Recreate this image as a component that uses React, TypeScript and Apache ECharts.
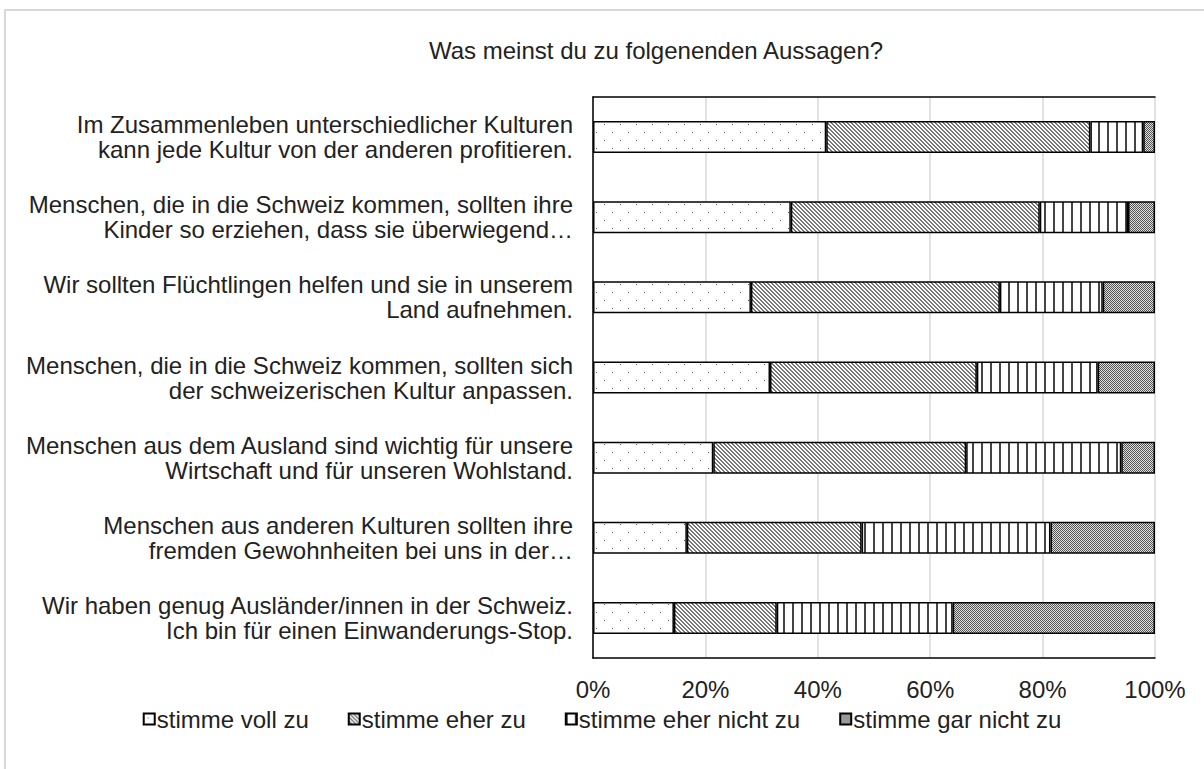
import React, { useEffect, useRef } from "react";
import * as echarts from "echarts";

const categories = [
  "Im Zusammenleben unterschiedlicher Kulturen\nkann jede Kultur von der anderen profitieren.",
  "Menschen, die in die Schweiz kommen, sollten ihre\nKinder so erziehen, dass sie überwiegend…",
  "Wir sollten Flüchtlingen helfen und sie in unserem\nLand aufnehmen.",
  "Menschen, die in die Schweiz kommen, sollten sich\nder schweizerischen Kultur anpassen.",
  "Menschen aus dem Ausland sind wichtig für unsere\nWirtschaft und für unseren Wohlstand.",
  "Menschen aus anderen Kulturen sollten ihre\nfremden Gewohnheiten bei uns in der…",
  "Wir haben genug Ausländer/innen in der Schweiz.\nIch bin für einen Einwanderungs-Stop.",
];

const seriesNames = [
  "stimme voll zu",
  "stimme eher zu",
  "stimme eher nicht zu",
  "stimme gar nicht zu",
];

const vollZu = [41.5, 35.2, 28.1, 31.5, 21.4, 16.7, 14.4];
const eherZu = [47.0, 44.3, 44.3, 36.8, 45.0, 31.1, 18.3];
const eherNichtZu = [9.4, 15.7, 18.3, 21.5, 27.6, 33.6, 31.3];
const garNichtZu = [2.1, 4.8, 9.3, 10.2, 6.0, 18.6, 36.0];

const tickValues = [0, 20, 40, 60, 80, 100];

const FONT = "'Liberation Sans', Arial, sans-serif";

function makeTile(w: number, h: number, draw: (ctx: CanvasRenderingContext2D) => void) {
  const c = document.createElement("canvas");
  c.width = w;
  c.height = h;
  const ctx = c.getContext("2d")!;
  ctx.fillStyle = "#ffffff";
  ctx.fillRect(0, 0, w, h);
  draw(ctx);
  return c;
}

function patterns() {
  const dots = makeTile(16, 16, (ctx) => {
    ctx.fillStyle = "#555";
    ctx.fillRect(4, 4, 1, 1);
    ctx.fillRect(12, 12, 1, 1);
  });
  const diag = makeTile(4, 4, (ctx) => {
    ctx.fillStyle = "#777";
    for (let i = 0; i < 4; i++) {
      ctx.fillRect(i, i, 1, 1);
      ctx.fillRect((i + 1) % 4, i, 1, 1);
    }
  });
  const vert = makeTile(9, 4, (ctx) => {
    ctx.fillStyle = "#444";
    ctx.fillRect(0, 0, 2, 4);
  });
  const checker = makeTile(2, 2, (ctx) => {
    ctx.fillStyle = "#dddddd";
    ctx.fillRect(0, 0, 2, 2);
    ctx.fillStyle = "#555";
    ctx.fillRect(0, 0, 1, 1);
    ctx.fillRect(1, 1, 1, 1);
  });
  return [dots, diag, vert, checker].map((img) => ({
    image: img,
    repeat: "repeat",
  }));
}

export default function App() {
  const ref = useRef<HTMLDivElement>(null);
  useEffect(() => {
    document.body.style.margin = "0";
    const chart = echarts.init(ref.current!, undefined, { renderer: "svg" });
    const pats = patterns();
    const dataSets = [vollZu, eherZu, eherNichtZu, garNichtZu];
    chart.setOption({
      animation: false,
      backgroundColor: "#ffffff",
      title: {
        text: "Was meinst du zu folgenenden Aussagen?",
        left: 424,
        top: 33,
        textStyle: { fontFamily: FONT, fontSize: 24, fontWeight: "normal", color: "#222" },
      },
      graphic: [
        {
          type: "rect",
          shape: { x: 5, y: 10, width: 1220, height: 790 },
          style: { fill: "none", stroke: "#d9d9d9", lineWidth: 2 },
          silent: true,
        },
      ],
      legend: {
        top: 702,
        left: "center",
        itemWidth: 11,
        itemHeight: 11,
        itemGap: 39,
        icon: "rect",
        textStyle: { fontFamily: FONT, fontSize: 24, color: "#222", padding: [0, 0, 0, -3] },
        data: seriesNames,
      },
      grid: { left: 593, right: 49, top: 97, bottom: 111, containLabel: false },
      xAxis: [
        {
          type: "value",
          min: 0,
          max: 100,
          interval: 20,
          position: "bottom",
          axisLine: { show: true, lineStyle: { color: "#000", width: 1.5 } },
          axisTick: { show: false },
          splitLine: { show: true, lineStyle: { color: "#d9d9d9", width: 1.5 } },
          axisLabel: {
            fontFamily: FONT,
            fontSize: 24,
            color: "#222",
            margin: 19,
            formatter: (v: number) => (tickValues.includes(v) ? v + "%" : ""),
          },
        },
        {
          type: "value",
          min: 0,
          max: 100,
          interval: 20,
          position: "top",
          axisLine: { show: true, lineStyle: { color: "#000", width: 1.5 } },
          axisTick: { show: false },
          splitLine: { show: false },
          axisLabel: { show: false },
        },
      ],
      yAxis: [
        {
          type: "category",
          data: categories,
          inverse: true,
          position: "left",
          axisLine: { show: false },
          axisTick: { show: false },
          axisLabel: {
            fontFamily: FONT,
            fontSize: 24,
            lineHeight: 25,
            color: "#222",
            align: "right",
            margin: 20,
          },
        },
        {
          type: "category",
          data: categories,
          inverse: true,
          position: "right",
          axisLine: { show: true, lineStyle: { color: "#000", width: 1.5 } },
          axisTick: { show: false },
          axisLabel: { show: false },
        },
      ],
      series: dataSets.map((d, i) => ({
        name: seriesNames[i],
        type: "bar",
        stack: "total",
        xAxisIndex: 0,
        yAxisIndex: 0,
        barWidth: 32,
        data: d,
        itemStyle: { color: pats[i], borderColor: "#000", borderWidth: 1.5 },
        emphasis: { disabled: true },
      })),
    });
    return () => chart.dispose();
  }, []);
  return (
    <div
      ref={ref}
      style={{ position: "fixed", left: 0, top: 0, width: 1204, height: 769 }}
    />
  );
}
